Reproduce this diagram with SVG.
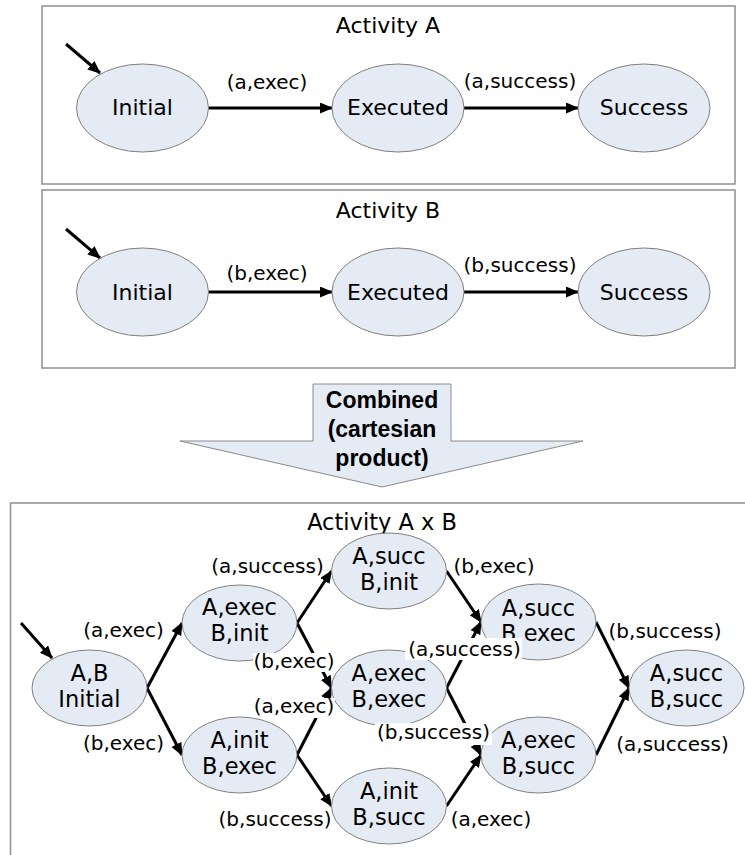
<svg xmlns="http://www.w3.org/2000/svg" width="745" height="855" viewBox="0 0 745 855">
  <style>
    .panel{fill:#fff;stroke:#8f8f8f;stroke-width:1.5}
    .state ellipse{fill:#e5ebf5;stroke:#808080;stroke-width:1}
    .state text,.title{font-family:"DejaVu Sans",Verdana,sans-serif;font-size:22px;fill:#000;text-anchor:middle}
    .big text{font-size:22.5px}
    .lbl{font-family:"DejaVu Sans",Verdana,sans-serif;font-size:20px;fill:#000;text-anchor:middle}
    .edge{stroke:#000;stroke-width:3;fill:none;marker-end:url(#ah)}
    .mask{fill:#fff}
    .banner{fill:#e5ebf5;stroke:#8a8a8a;stroke-width:1}
    .banner-text{font-family:"Liberation Sans",Arial,sans-serif;font-weight:bold;font-size:23px;fill:#000;text-anchor:middle}
  </style>
  <defs>
    <marker id="ah" markerWidth="14" markerHeight="12" refX="12" refY="5.5" orient="auto" markerUnits="userSpaceOnUse">
      <path d="M0,0 L13,5.5 L0,11 z" fill="#000"/>
    </marker>
  </defs>

  <rect width="745" height="855" fill="#fff"/>

  <!-- Activity A -->
  <g id="activity-a">
    <rect class="panel" x="42" y="6" width="693" height="178"/>
    <text class="title" x="388" y="33">Activity A</text>
    <g id="a-connectors">
      <line class="edge" x1="66" y1="44" x2="100" y2="73"/>
      <line class="edge" x1="208.5" y1="108" x2="332" y2="108"/>
      <line class="edge" x1="464" y1="108" x2="578" y2="108"/>
      <text class="lbl" x="267" y="89">(a,exec)</text>
      <text class="lbl" x="520" y="88">(a,success)</text>
    </g>
    <g id="a-initial" class="state"><ellipse cx="142.5" cy="108" rx="66" ry="44"/><text x="142.5" y="115">Initial</text></g>
    <g id="a-executed" class="state"><ellipse cx="398" cy="108" rx="66" ry="44"/><text x="398" y="115">Executed</text></g>
    <g id="a-success" class="state"><ellipse cx="644" cy="108" rx="66" ry="44"/><text x="644" y="115">Success</text></g>
  </g>

  <!-- Activity B -->
  <g id="activity-b">
    <rect class="panel" x="42" y="190" width="693" height="178"/>
    <text class="title" x="388" y="218">Activity B</text>
    <g id="b-connectors">
      <line class="edge" x1="66" y1="229" x2="100" y2="258"/>
      <line class="edge" x1="208.5" y1="292" x2="332" y2="292"/>
      <line class="edge" x1="464" y1="292" x2="578" y2="292"/>
      <text class="lbl" x="267" y="280">(b,exec)</text>
      <text class="lbl" x="520" y="272">(b,success)</text>
    </g>
    <g id="b-initial" class="state"><ellipse cx="142.5" cy="292" rx="66" ry="44"/><text x="142.5" y="300">Initial</text></g>
    <g id="b-executed" class="state"><ellipse cx="398" cy="292" rx="66" ry="44"/><text x="398" y="300">Executed</text></g>
    <g id="b-success" class="state"><ellipse cx="644" cy="292" rx="66" ry="44"/><text x="644" y="300">Success</text></g>
  </g>

  <!-- block arrow between the activities and the product -->
  <g id="combine-arrow">
    <polygon class="banner" points="313,384 451,384 451,441 583,441 382,487 180,441 313,441"/>
    <text class="banner-text" x="382" y="408">Combined</text>
    <text class="banner-text" x="382" y="437">(cartesian</text>
    <text class="banner-text" x="382" y="466">product)</text>
  </g>

  <!-- Activity A x B -->
  <g id="activity-axb">
    <rect class="panel" x="10.5" y="503" width="800" height="400"/>
    <text class="title" x="382" y="530" style="font-size:22.5px">Activity A x B</text>

    <g id="axb-connectors">
      <line class="edge" x1="21" y1="623" x2="52" y2="658"/>
      <line class="edge" x1="147" y1="688" x2="182" y2="623"/>
      <line class="edge" x1="147" y1="688" x2="182" y2="755"/>
      <line class="edge" x1="297" y1="623" x2="331.5" y2="571"/>
      <line class="edge" x1="297" y1="623" x2="331.5" y2="688"/>
      <line class="edge" x1="297" y1="755" x2="331.5" y2="688"/>
      <line class="edge" x1="297" y1="755" x2="331.5" y2="806"/>
      <line class="edge" x1="446.5" y1="571" x2="481" y2="622"/>
      <line class="edge" x1="446.5" y1="688" x2="481" y2="622"/>
      <line class="edge" x1="446.5" y1="688" x2="481" y2="755"/>
      <line class="edge" x1="446.5" y1="806" x2="481" y2="755"/>
      <line class="edge" x1="596" y1="622" x2="629" y2="688"/>
      <line class="edge" x1="596" y1="755" x2="629" y2="688"/>
    </g>

    <g id="ab-initial" class="state big"><ellipse cx="89.5" cy="688" rx="57.5" ry="38"/><text x="89.5" y="681">A,B</text><text x="89.5" y="707">Initial</text></g>
    <g id="aexec-binit" class="state big"><ellipse cx="239.5" cy="623" rx="57.5" ry="38"/><text x="239.5" y="615">A,exec</text><text x="239.5" y="641">B,init</text></g>
    <g id="ainit-bexec" class="state big"><ellipse cx="239.5" cy="755" rx="57.5" ry="38"/><text x="239.5" y="748">A,init</text><text x="239.5" y="774">B,exec</text></g>
    <g id="asucc-binit" class="state big"><ellipse cx="389" cy="571" rx="57.5" ry="38"/><text x="389" y="564">A,succ</text><text x="389" y="590">B,init</text></g>
    <g id="aexec-bexec" class="state big"><ellipse cx="389" cy="688" rx="57.5" ry="38"/><text x="389" y="681">A,exec</text><text x="389" y="707">B,exec</text></g>
    <g id="ainit-bsucc" class="state big"><ellipse cx="389" cy="806" rx="57.5" ry="38"/><text x="389" y="799">A,init</text><text x="389" y="825">B,succ</text></g>
    <g id="asucc-bexec" class="state big"><ellipse cx="538.5" cy="622" rx="57.5" ry="38"/><text x="538.5" y="616">A,succ</text><text x="538.5" y="641">B,exec</text></g>
    <g id="aexec-bsucc" class="state big"><ellipse cx="538.5" cy="755" rx="57.5" ry="38"/><text x="538.5" y="748">A,exec</text><text x="538.5" y="774">B,succ</text></g>
    <g id="asucc-bsucc" class="state big"><ellipse cx="686.5" cy="688" rx="57.5" ry="38"/><text x="686.5" y="681">A,succ</text><text x="686.5" y="707">B,succ</text></g>

    <!-- transition labels; the crowded ones sit on white boxes -->
    <g id="axb-labels">
      <text class="lbl" x="123.5" y="637">(a,exec)</text>
      <text class="lbl" x="123.5" y="750">(b,exec)</text>
      <text class="lbl" x="267.5" y="573">(a,success)</text>
      <rect class="mask" x="253" y="653" width="82" height="19"/>
      <text class="lbl" x="294" y="668">(b,exec)</text>
      <rect class="mask" x="253" y="698" width="82" height="20"/>
      <text class="lbl" x="294" y="713">(a,exec)</text>
      <text class="lbl" x="275" y="826">(b,success)</text>
      <text class="lbl" x="494" y="573">(b,exec)</text>
      <rect class="mask" x="405" y="638" width="117" height="22"/>
      <text class="lbl" x="464.5" y="656">(a,success)</text>
      <rect class="mask" x="375" y="723" width="117" height="22"/>
      <text class="lbl" x="433.5" y="739">(b,success)</text>
      <text class="lbl" x="665" y="638">(b,success)</text>
      <text class="lbl" x="672.5" y="751">(a,success)</text>
      <text class="lbl" x="491" y="826">(a,exec)</text>
    </g>
  </g>
</svg>
